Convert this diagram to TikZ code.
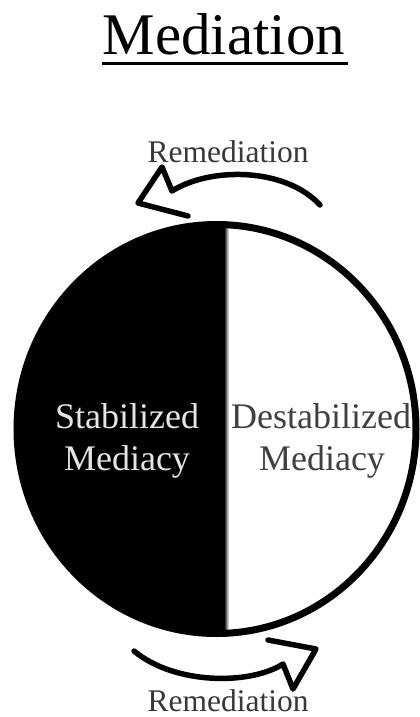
\documentclass[tikz,border=0pt]{standalone}
\usepackage{fontspec}
\setmainfont{Liberation Serif}
\begin{document}
\begin{tikzpicture}[x=1pt,y=-1pt,
  arrowline/.style={line width=5.5pt,line join=round,line cap=round},
  sidelabel/.style={anchor=base,inner sep=0pt,font=\fontsize{36}{40}\selectfont},
  remlabel/.style={anchor=base,inner sep=0pt,text=black!78,font=\fontsize{31.5}{36}\selectfont}]
\useasboundingbox (0,0) rectangle (420,717);
% title
\node[anchor=base,inner sep=0pt,font=\fontsize{59}{64}\selectfont] (title) at (224,55) {Mediation};
\draw[line width=3pt] (102,64) -- (348,64);
% circle
\coordinate (c) at (216.5,429);
\begin{scope}
  \clip (c) ellipse [x radius=199.5, y radius=204.5];
  \fill[white] (c) ellipse [x radius=199.5, y radius=204.5];
  \fill[black] (0,200) rectangle (225,660);
  \shade[left color=black,right color=white] (224,200) rectangle (229,660);
\end{scope}
\draw[line width=7pt] (c) ellipse [x radius=199.5, y radius=204.5];
% labels
\node[sidelabel,text=black!10] (stab1) at (127,428) {Stabilized};
\node[sidelabel,text=black!10] (stab2) at (127,470) {Mediacy};
\node[sidelabel,text=black!75] (dest1) at (321,428) {Destabilized};
\node[sidelabel,text=black!75] (dest2) at (322,470) {Mediacy};
% top arrow
\node[remlabel] (remtop) at (228,162) {Remediation};
\coordinate (t0) at (320,205);
\coordinate (tn) at (172,191);
\coordinate (tu) at (162,167);
\coordinate (tt) at (138,203);
\coordinate (tl) at (188,216);
\draw[arrowline] (t0) .. controls (285,167) and (210,167) .. (tn) -- (tu) -- (tt) -- (tl);
% bottom arrow
\node[remlabel] (rembot) at (228,711) {Remediation};
\coordinate (b0) at (134,651);
\coordinate (bn) at (283,664);
\coordinate (bl) at (293,689);
\coordinate (bt) at (316,649);
\coordinate (bu) at (268,640);
\draw[arrowline] (b0) .. controls (175,685) and (250,685) .. (bn) -- (bl) -- (bt) -- (bu);
\end{tikzpicture}
\end{document}
